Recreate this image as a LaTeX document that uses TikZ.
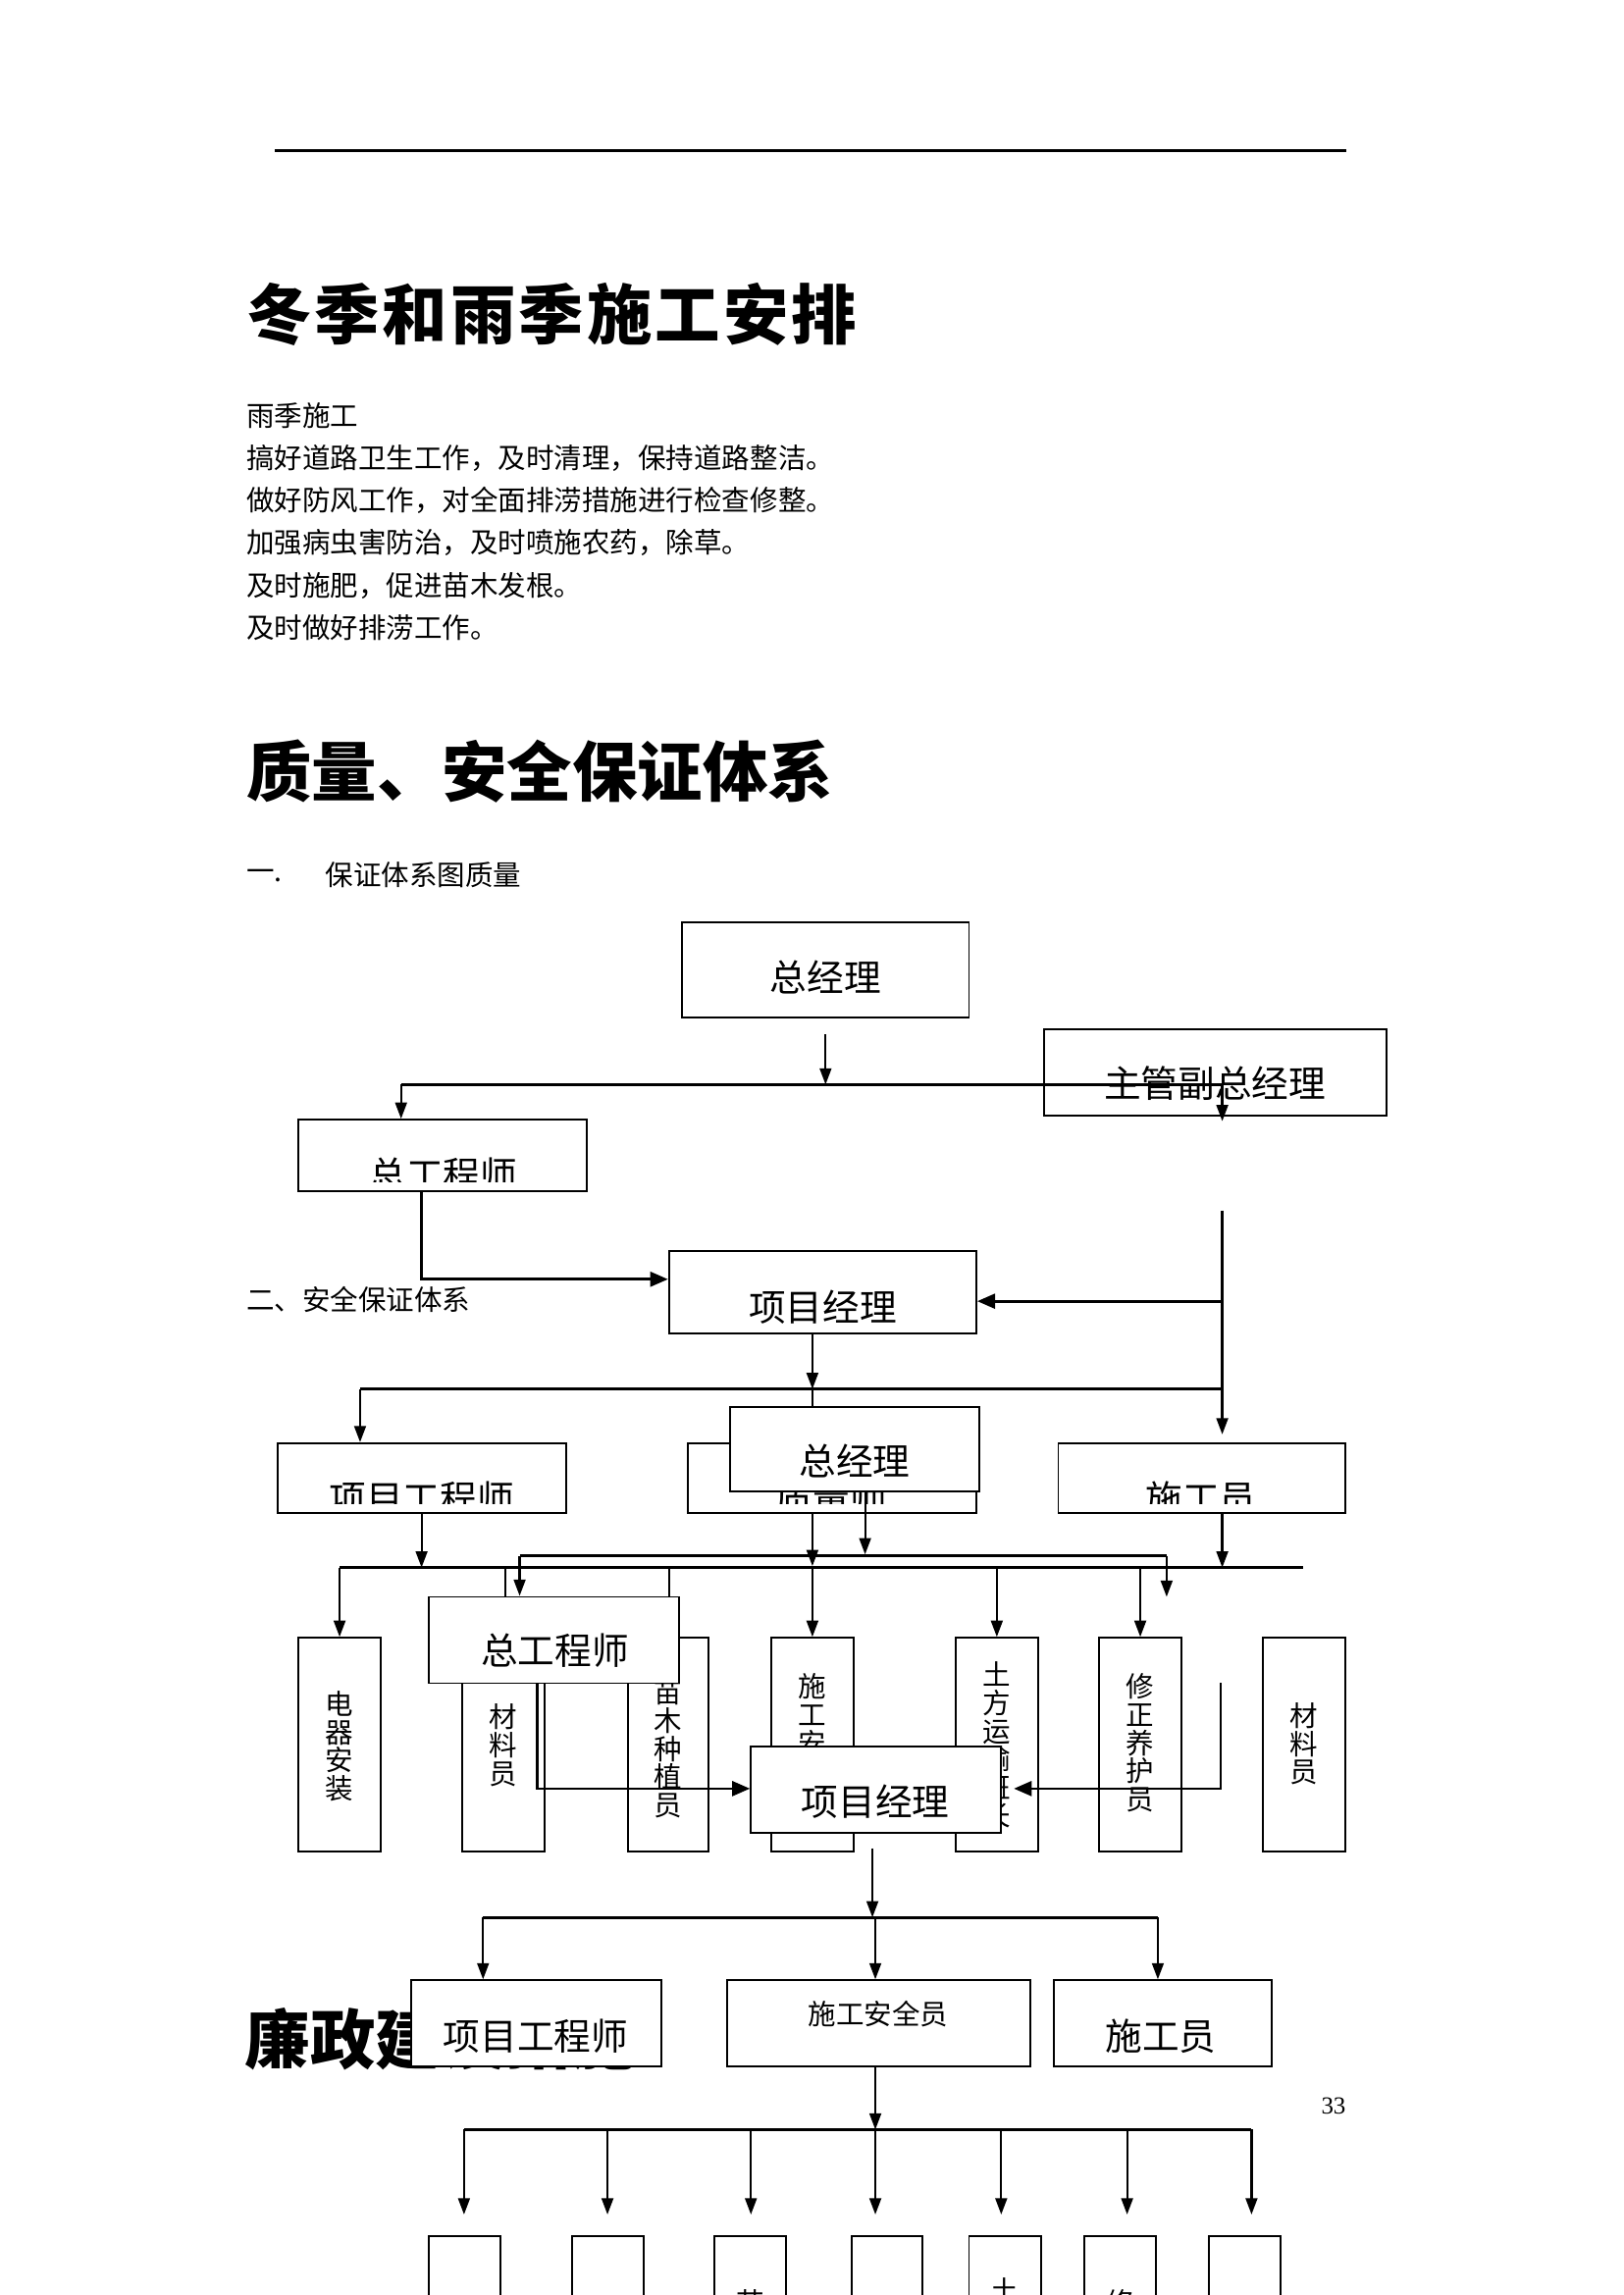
\documentclass[tikz,border=0pt]{standalone}
\usepackage{fontspec}
\setmainfont{Noto Sans CJK SC}
\newfontfamily\widefont[LetterSpace=4.5]{Noto Sans CJK SC}
\newfontfamily\numfont{Liberation Serif}
\usetikzlibrary{arrows.meta,positioning,calc,fit}
\tikzset{
  box/.style={draw, line width=0.7pt, inner sep=0pt},
  wbox/.style={box, fill=white},
  link/.style={line width=0.8pt},
  bus/.style={line width=1.2pt},
  arr/.style={-{Triangle[length=2.1mm,width=1.5mm]}, line width=0.8pt},
  harr/.style={-{Triangle[length=2.3mm,width=1.9mm]}, line width=1pt},
  lbl/.style={inner sep=0pt, font=\fontsize{13.6}{15}\selectfont},
  vlbl/.style={inner sep=0pt, align=center, anchor=north, font=\fontsize{10.3}{10.4}\selectfont},
  body/.style={inner sep=0pt, anchor=west, font=\fontsize{10.3}{12}\selectfont},
  head/.style={inner sep=0pt, anchor=west, font=\fontsize{24}{26}\selectfont\bfseries},
}
% label cut off a little above the lower edge of its box
\newcommand{\cutlabel}[5]{%
  \begin{scope}
    \clip (#1.north west) rectangle ($(#1.south east)+(0,-7)$);
    \node[lbl] (#2) at (#3) {#4#5};
  \end{scope}}

\begin{document}
\begin{tikzpicture}[x=0.18936mm, y=-0.18936mm]
        \useasboundingbox[fill=white] (0,0) rectangle (1109,1568);
        \draw[line width=1.1pt] (188,103) -- (920,103);

        % text of the page
        \node[head, font=\widefont\bfseries\fontsize{24}{26}\selectfont] (winter) at (168,215) {冬季和雨季施工安排};
        \node[body] (rain) at (168,284) {雨季施工};
        \node[body] (rain1) at (168,313) {搞好道路卫生工作，及时清理，保持道路整洁。};
        \node[body] (rain2) at (168,342) {做好防风工作，对全面排涝措施进行检查修整。};
        \node[body] (rain3) at (168,371) {加强病虫害防治，及时喷施农药，除草。};
        \node[body] (rain4) at (168,400) {及时施肥，促进苗木发根。};
        \node[body] (rain5) at (168,429) {及时做好排涝工作。};
        \node[head] (quality) at (168,527) {质量、安全保证体系};
        \node[body] (secone) at (168,598) {一.};
        \node[body] (seconet) at (222,598) {保证体系图质量};

        % quality chart
        \node[box, fit={(466,630) (662,695)}] (gmA) {};
        \node[lbl] (gmAt) at (564,668) {总经理};
        \node[box, fit={(713,703) (947,762)}] (vpA) {};
        \node[lbl] (vpAt) at (830,740) {主管副总经理};
        \coordinate (jA) at (564,741);
        \coordinate (bAl) at (274,741);
        \coordinate (bAr) at (835,741);
        \draw[arr] ($(gmA.south)+(0,11)$) -- (jA);
        \draw[bus] (bAl) -- (bAr);
        \node[box, fit={(204,765) (401,814)}] (ceA) {};
        \draw[arr] (bAl) -- (bAl |- ceA.north);
        \draw[arr] (bAr) -- ++(0,25);
        \cutlabel{ceA}{ceAt}{303,802.5}{总工}{程师}
        \node[box, fit={(457,855) (667,911)}] (pmA) {};
        \node[lbl] (pmAt) at (562,893) {项目经理};
        \draw[harr] (ceA.south -| 288,0) |- (pmA.west |- 0,874);
        \coordinate (rA) at (835,827);
        \coordinate (rAb) at (835,949);
        \draw[link] (rA) -- (rAb);
        \draw[harr] (835,889) -- (pmA.east |- 0,889);
        \node[body] (sectwo) at (168,888) {二、安全保证体系};

        % safety chart, upper part
        \coordinate (jB) at (555,949);
        \coordinate (bBl) at (246,949);
        \draw[arr] (pmA.south -| jB) -- (jB);
        \draw[link] (jB) -- (555,961);
        \draw[bus] (bBl) -- (rAb);
        \node[box, fit={(190,986) (387,1034)}] (peB) {};
        \node[box, fit={(470,986) (667,1034)}] (qeB) {};
        \node[box, fit={(723,986) (919,1034)}] (cwB) {};
        \draw[arr] (bBl) -- (bBl |- peB.north);
        \draw[arr] (rAb) -- ++(0,31);
        \cutlabel{peB}{peBt}{288,1024}{项目工}{程师}
        \cutlabel{qeB}{qeBt}{568,1024}{质量}{师}
        \cutlabel{cwB}{cwBt}{820.5,1024}{施工}{员}
        \node[wbox, fit={(499,961) (669,1019)}] (gmB) {};
        \node[lbl] (gmBt) at (584,998) {总经理};

        \draw[bus] (355,1063) -- (797,1063);
        \draw[bus] (232,1071) -- (890,1071);
        \draw[arr] (peB.south -| 288,0) -- (288,1071);
        \draw[arr] (qeB.south -| 555,0) -- (555,1070);
        \draw[arr] (gmB.south -| 591,0) -- (591,1062);
        \draw[arr] (cwB.south -| 835,0) -- (835,1071);

        % staff boxes
        \foreach \n/\xa/\xb in {1/204/260, 2/316/372, 3/429/484, 4/527/583, 5/653/709, 6/751/807, 7/863/919}
          \node[box, fit={(\xa,1119) (\xb,1265)}] (t\n) {};
        \node[vlbl] (t1t) at (t1.north |- 0,1155) {电\\器\\安\\装};
        \node[vlbl] (t2t) at (t2.north |- 0,1164) {材\\料\\员};
        \node[vlbl] (t3t) at (t3.north |- 0,1147) {苗\\木\\种\\植\\员};
        \node[vlbl] (t4t) at (t4.north |- 0,1143) {施\\工\\安\\全\\员};
        \node[vlbl] (t5t) at (t5.north |- 0,1135) {土\\方\\运\\输\\班\\长};
        \node[vlbl] (t6t) at (t6.north |- 0,1143) {修\\正\\养\\护\\员};
        \node[vlbl] (t7t) at (t7.north |- 0,1163) {材\\料\\员};
        \foreach \n/\x in {1/232, 4/555, 5/681, 6/779}
          \draw[arr] (\x,1071) -- (t\n.north -| \x,0);

        \node[wbox, fit={(293,1091) (464,1150)}] (ceB) {};
        \node[lbl] (ceBt) at (379,1128) {总工程师};
        \draw[link] (345,1071) -- (ceB.north -| 345,0);
        \draw[link] (457,1071) -- (ceB.north -| 457,0);
        \draw[arr] (355,1063) -- (ceB.north -| 355,0);
        \draw[arr] (797,1063) -- (797,1091);

        \node[wbox, fit={(513,1193) (684,1252)}] (pmB) {};
        \node[lbl] (pmBt) at (598,1231) {项目经理};
        \draw[harr] (ceB.south -| 367,0) |- (pmB.west |- 0,1222);
        \coordinate (rB) at (834,1150);
        \draw[harr] (rB) |- ($(pmB.east |- 0,1222)+(8,0)$);

        % safety chart, lower part
        \coordinate (jC) at (596,1310);
        \draw[arr] ($(pmB.south -| jC)+(0,10)$) -- (jC);
        \draw[bus] (330,1310) -- (791,1310);
        \node[head] (clean) at (167,1393) {廉政建设措施};
        \node[wbox, fit={(281,1353) (452,1412)}] (peC) {};
        \node[box, fit={(497,1353) (704,1412)}] (psC) {};
        \node[box, fit={(720,1353) (869,1412)}] (cwC) {};
        \draw[arr] (330,1310) -- (peC.north -| 330,0);
        \draw[arr] (598,1310) -- (psC.north -| 598,0);
        \draw[arr] (791,1310) -- (cwC.north -| 791,0);
        \node[lbl] (peCt) at (366,1391) {项目工程师};
        \node[body, anchor=center] (psCt) at (600,1376) {施工安全员};
        \node[lbl] (cwCt) at (793,1391) {施工员};
        \node[inner sep=0pt, font=\numfont\fontsize{9}{10}\selectfont] (pageno) at (911,1439) {33};

        \coordinate (jD) at (598,1455);
        \draw[arr] (psC.south -| jD) -- (jD);
        \draw[bus] (317,1455) -- (855,1455);
        \foreach \x in {317,415,513,598,684,770,855}
          \draw[arr] (\x,1455) -- (\x,1513);
        \begin{scope}
          \clip (0,0) rectangle (1109,1568);
          \foreach \n/\xa/\xb in {1/293/342, 2/391/440, 3/488/537, 4/582/630, 5/662/711, 6/741/790, 7/826/875}
            \node[box, fit={(\xa,1528) (\xb,1600)}] (b\n) {};
          \node[vlbl] (b3t) at (b3.north |- 0,1564) {苗};
          \node[vlbl] (b5t) at (b5.north |- 0,1556) {土};
          \node[vlbl] (b6t) at (b6.north |- 0,1564) {修};
        \end{scope}
      \end{tikzpicture}
\end{document}
